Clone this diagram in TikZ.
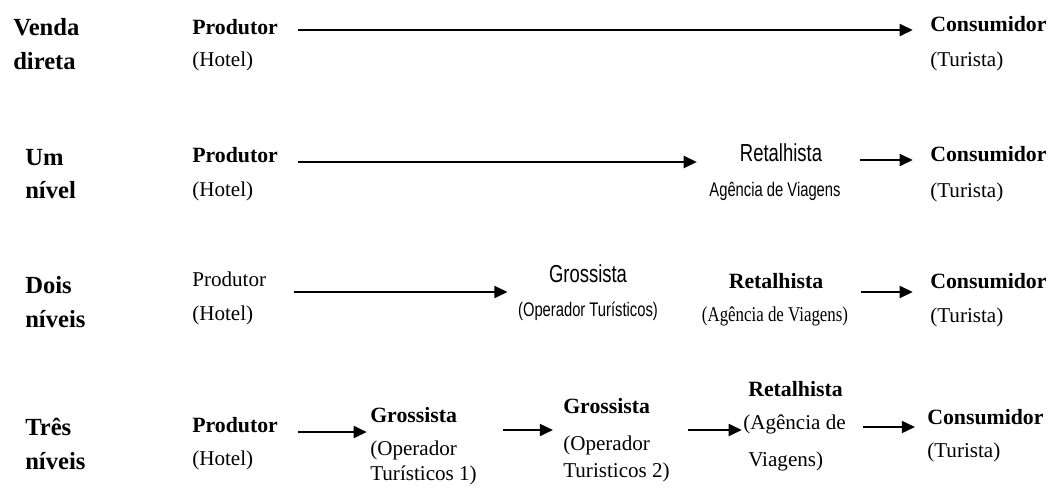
\documentclass[tikz,border=0pt]{standalone}
\usepackage{fontspec}
\setmainfont{Liberation Serif}
\newfontfamily\narrowfont{Liberation Sans}[FakeStretch=0.75]
\newfontfamily\narrowserif{Liberation Serif}[FakeStretch=0.8]
\usetikzlibrary{arrows.meta}
\tikzset{
  lvl/.style={font=\fontsize{17.5}{24}\selectfont\bfseries, align=left, inner sep=0pt, anchor=west},
  head/.style={font=\fontsize{15.5}{19}\selectfont\bfseries, inner sep=0pt, anchor=west, text height=1.5ex, text depth=.25ex},
  sub/.style={font=\fontsize{15}{19}\selectfont, inner sep=0pt, anchor=west, text height=1.5ex, text depth=.25ex},
  nhead/.style={font=\narrowfont\fontsize{17.5}{20}\selectfont, inner sep=0pt, text height=1.5ex, text depth=.25ex},
  nsub/.style={font=\narrowfont\fontsize{14}{17}\selectfont, inner sep=0pt, text height=1.5ex, text depth=.25ex},
  flow/.style={-{Triangle[length=3.3mm,width=3mm]}, line width=1.5pt, shorten <=0.5cm, shorten >=0.43cm},
}

\begin{document}
\begin{tikzpicture}[x=0.025cm, y=-0.025cm]
    \useasboundingbox (0,0) rectangle (1048,495);
    % level labels
    \node[lvl] (lblA) at (13,44) {Venda\\direta};
    \node[lvl] (lblB) at (25,174) {Um\\nível};
    \node[lvl] (lblC) at (25,302) {Dois\\níveis};
    \node[lvl] (lblD) at (25,444) {Três\\níveis};
    % venda direta
    \coordinate (lvA) at (0,30);
    \node[head] (prodA) at (192,30) {Produtor};
    \node[sub] (hotA) at (192,62) {(Hotel)};
    \node[head] (consA) at (930,27) {Consumidor};
    \node[sub] (turA) at (930,62) {(Turista)};
    \draw[flow] (prodA.east |- lvA) -- (consA.west |- lvA);
    % um nivel
    \coordinate (lvB) at (0,162);
    \coordinate (lvBb) at (0,160);
    \node[head] (prodB) at (192,158) {Produtor};
    \node[sub] (hotB) at (192,192) {(Hotel)};
    \node[nhead] (retB) at (781,157) {Retalhista};
    \node[nsub] (agB) at (775,192) {Agência de Viagens};
    \node[head] (consB) at (930,157) {Consumidor};
    \node[sub] (turB) at (930,193) {(Turista)};
    \draw[flow, shorten >=1.07cm] (prodB.east |- lvB) -- (retB.west |- lvB);
    \draw[flow, shorten <=0.95cm] (retB.east |- lvBb) -- (consB.west |- lvBb);
    % dois niveis
    \coordinate (lvC) at (0,292);
    \node[sub] (prodC) at (192,282) {Produtor};
    \node[sub] (hotC) at (192,316) {(Hotel)};
    \node[nhead] (groC) at (588,278) {Grossista};
    \node[nsub] (opC) at (588,312) {(Operador Turísticos)};
    \node[head, anchor=center] (retC) at (776,284) {Retalhista};
    \node[sub, anchor=center, font=\narrowserif\fontsize{15}{19}\selectfont] (agC) at (775,317) {(Agência de Viagens)};
    \node[head] (consC) at (930,284) {Consumidor};
    \node[sub] (turC) at (930,318) {(Turista)};
    \draw[flow, shorten <=0.7cm, shorten >=1.03cm] (prodC.east |- lvC) -- (groC.west |- lvC);
    \draw[flow, shorten <=0.93cm] (retC.east |- lvC) -- (consC.west |- lvC);
    % tres niveis
    \coordinate (lvD) at (0,432);
    \coordinate (lvDb) at (0,430);
    \coordinate (lvDc) at (0,427);
    \node[head] (prodD) at (192,428) {Produtor};
    \node[sub] (hotD) at (192,461) {(Hotel)};
    \node[head] (groDa) at (370,418) {Grossista};
    \node[sub] (opDa) at (370,451) {(Operador};
    \node[sub] (tuDa) at (370,476) {Turísticos 1)};
    \node[head] (groDb) at (563,409) {Grossista};
    \node[sub] (opDb) at (563,446) {(Operador};
    \node[sub] (tuDb) at (563,473) {Turisticos 2)};
    \node[head] (retD) at (748,392) {Retalhista};
    \node[sub] (agD) at (743,425) {(Agência de};
    \node[sub] (viD) at (748,462) {Viagens)};
    \node[head] (consD) at (927,420) {Consumidor};
    \node[sub] (turD) at (927,453) {(Turista)};
    \draw[flow, shorten >=0.08cm] (prodD.east |- lvD) -- (groDa.west |- lvD);
    \draw[flow, shorten <=1.15cm, shorten >=0.25cm] (groDa.east |- lvDb) -- (groDb.west |- lvDb);
    \draw[flow, shorten <=0.95cm, shorten >=0.03cm] (groDb.east |- lvDb) -- (agD.west |- lvDb);
    \draw[flow, shorten >=0.3cm] (retD.east |- lvDc) -- (consD.west |- lvDc);
\end{tikzpicture}
\end{document}
